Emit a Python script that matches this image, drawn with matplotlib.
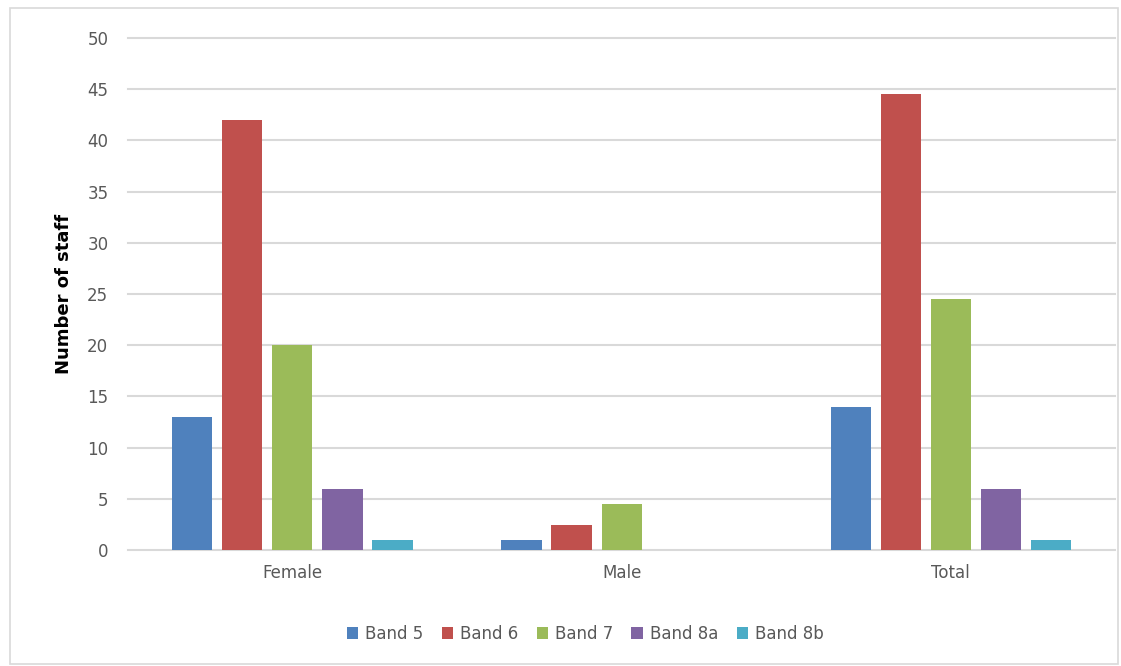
import matplotlib.pyplot as plt
import numpy as np
from matplotlib.patches import Rectangle

# data
groups = ["Female", "Male", "Total"]
bands = ["Band 5", "Band 6", "Band 7", "Band 8a", "Band 8b"]
band5 = [13, 1, 14]
band6 = [42, 2.5, 44.5]
band7 = [20, 4.5, 24.5]
band8a = [6, 0, 6]
band8b = [1, 0, 1]
colours = ["#4F81BD", "#C0504D", "#9BBB59", "#8064A2", "#4BACC6"]

series = [band5, band6, band7, band8a, band8b]

fig = plt.figure(figsize=(11.21, 6.66), dpi=100)
ax = fig.add_axes([0.114, 0.174, 0.881, 0.769])

x = np.arange(len(groups))
pitch = 0.152
width = 0.122
for i, (vals, lab, col) in enumerate(zip(series, bands, colours)):
    ax.bar(x + (i - 2) * pitch, vals, width, color=col, label=lab, zorder=3)

ax.set_xlim(-0.5, 2.5)
ax.set_ylim(0, 50)
ax.set_yticks(np.arange(0, 51, 5))
ax.set_xticks(x)
ax.set_xticklabels(groups)
ax.yaxis.grid(True, color="#D9D9D9", linewidth=1.5, zorder=0)
for gl in ax.get_ygridlines():
    gl.set_clip_on(False)
for s in ax.spines.values():
    s.set_visible(False)
ax.tick_params(length=0, labelsize=12, colors="#595959", pad=10)
ax.tick_params(axis="y", pad=14)
ax.set_ylabel("Number of staff", fontsize=13, fontweight="bold", labelpad=10)

leg = fig.legend(loc="center", bbox_to_anchor=(0.522, 0.048), ncol=5,
                 frameon=False, fontsize=12, handlelength=0.7, handleheight=0.7,
                 columnspacing=1.1, handletextpad=0.4)
for t in leg.get_texts():
    t.set_color("#595959")

# light outer border
fig.patches.append(Rectangle((0.009, 0.003), 0.988, 0.985, transform=fig.transFigure,
                             fill=False, edgecolor="#D9D9D9", linewidth=1.2))

fig.savefig("out.png", dpi=100)
